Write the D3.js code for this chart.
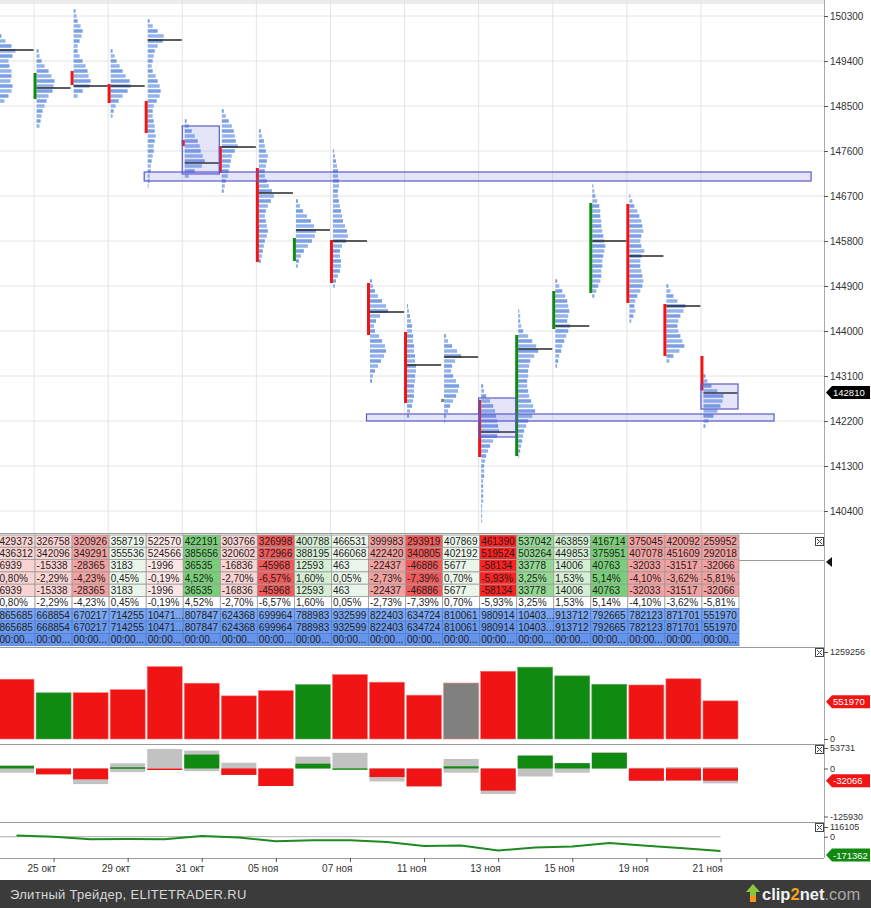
<!DOCTYPE html>
<html>
<head>
<meta charset="utf-8">
<script src="https://cdn.jsdelivr.net/npm/d3@7"></script>
<style>
  body { margin: 0; background: #fff; }
  svg { display: block; }
</style>
</head>
<body>
<script>
'use strict';

// ---- data ----
const days = ['24 окт', '25 окт', '28 окт', '29 окт', '30 окт', '31 окт', '01 ноя', '05 ноя', '06 ноя', '07 ноя',
  '08 ноя', '11 ноя', '12 ноя', '13 ноя', '14 ноя', '15 ноя', '18 ноя', '19 ноя', '20 ноя', '21 ноя'];

// daily open / close (candle body)
const openPx  = [149500, 148640, 149200, 148940, 148600, 147820, 147700, 147260, 145400, 145820,
  144960, 143980, 142640, 142620, 141500, 144040, 144760, 146540, 144540, 143500];
const closePx = [148700, 149160, 148920, 148560, 147960, 147700, 147160, 145380, 145860, 144960,
  143920, 142560, 142640, 141480, 143920, 144800, 146560, 144560, 143500, 142810];

// point of control per day
const pocPx = [149620, 148860, 148900, 148900, 149820, 147360, 147680, 146760, 146020, 145800,
  144380, 143320, 143480, 141980, 143640, 144100, 145800, 145500, 144500, 142760];

// volume profile: top price of each day and volume per 100-pt level going down
const profileTop = [149900, 149600, 150400, 149600, 150200, 148200, 148400, 148000, 146600, 147600,
  145000, 144500, 143900, 142900, 144400, 145000, 146900, 146700, 144900, 143100];
const profileVol = [
  [2, 6, 12, 16, 13, 9, 10, 12, 12, 11, 13, 12, 9, 5],
  [2, 3, 5, 8, 12, 15, 18, 17, 16, 12, 10, 8, 6, 5, 4, 3],
  [2, 3, 4, 7, 9, 8, 6, 4, 4, 6, 9, 12, 14, 15, 17, 16, 9, 4],
  [2, 4, 6, 9, 12, 15, 19, 20, 17, 12, 8, 5, 3, 2],
  [2, 5, 10, 16, 15, 10, 7, 6, 5, 4, 5, 8, 10, 12, 13, 12, 9, 6, 5, 5, 6, 7, 7, 8, 7, 6, 6, 5, 4, 3, 3, 2, 2, 1],
  [2, 4, 7, 10, 13, 15, 16, 18, 20, 17, 10, 4],
  [2, 4, 7, 10, 12, 13, 14, 16, 13, 10, 9, 8, 7, 6, 4, 3, 2],
  [2, 3, 5, 6, 7, 9, 8, 7, 6, 6, 8, 10, 13, 15, 12, 9, 7, 6, 7, 8, 9, 8, 6, 5, 4, 3, 2],
  [2, 4, 7, 11, 15, 18, 20, 19, 16, 12, 8, 5, 3, 2],
  [1, 2, 3, 4, 5, 5, 6, 6, 5, 5, 6, 7, 8, 9, 10, 12, 14, 15, 13, 9, 7, 7, 8, 8, 7, 5, 3, 2],
  [2, 3, 5, 8, 12, 16, 18, 10, 6, 4, 5, 9, 12, 15, 16, 14, 11, 8, 5, 3, 2],
  [1, 2, 3, 4, 5, 5, 6, 6, 7, 7, 8, 8, 9, 9, 8, 8, 7, 7, 7, 6, 5, 3, 2],
  [2, 4, 8, 13, 17, 11, 8, 7, 9, 12, 15, 14, 12, 9, 6, 4, 2, 1],
  [2, 3, 5, 9, 12, 14, 15, 16, 17, 18, 16, 12, 9, 7, 5, 4, 3, 3, 3, 2, 2, 2, 2, 2, 1, 1, 1, 1],
  [1, 2, 2, 3, 5, 10, 14, 18, 20, 16, 12, 11, 10, 10, 9, 9, 10, 11, 13, 15, 17, 14, 10, 8, 6, 5, 4, 3, 2, 1],
  [2, 4, 7, 10, 12, 13, 14, 13, 12, 15, 13, 11, 9, 7, 6, 4, 3, 2],
  [1, 2, 3, 5, 7, 8, 8, 9, 9, 10, 11, 12, 13, 12, 11, 10, 10, 9, 9, 8, 6, 4, 2],
  [1, 3, 5, 8, 10, 12, 13, 14, 12, 11, 12, 15, 12, 11, 11, 12, 13, 14, 13, 11, 8, 6, 5, 6, 4, 2],
  [2, 4, 7, 11, 19, 17, 14, 12, 11, 12, 14, 16, 18, 13, 7, 3],
  [2, 4, 8, 14, 20, 19, 17, 14, 10, 5, 2]
];

// highlighted boxes on single days
const boxDay = [5, 13, 19];
const boxHi  = [148100, 142660, 142940];
const boxLo  = [147140, 141880, 142440];

// horizontal level bands (from day index to day index)
const bandFrom = [4, 10];
const bandTo   = [22, 21];
const bandHi   = [147180, 142340];
const bandLo   = [147000, 142200];

const priceTicks = [150300, 149400, 148500, 147600, 146700, 145800, 144900, 144000, 143100, 142200, 141300, 140400];
const lastPrice = 142810;

// table rows
const buyVol  = [429373, 326758, 320926, 358719, 522570, 422191, 303766, 326998, 400788, 466531,
  399983, 293919, 407869, 461390, 537042, 463859, 416714, 375045, 420092, 259952];
const sellVol = [436312, 342096, 349291, 355536, 524566, 385656, 320602, 372966, 388195, 466068,
  422420, 340805, 402192, 519524, 503264, 449853, 375951, 407078, 451609, 292018];
const delta   = [6939, -15338, -28365, 3183, -1996, 36535, -16836, -45968, 12593, 463,
  -22437, -46886, 5677, -58134, 33778, 14006, 40763, -32033, -31517, -32066];
const deltaPct = ['0,80%', '-2,29%', '-4,23%', '0,45%', '-0,19%', '4,52%', '-2,70%', '-6,57%', '1,60%', '0,05%',
  '-2,73%', '-7,39%', '0,70%', '-5,93%', '3,25%', '1,53%', '5,14%', '-4,10%', '-3,62%', '-5,81%'];
const volume  = [865685, 668854, 670217, 714255, 1047100, 807847, 624368, 699964, 788983, 932599,
  822403, 634724, 810061, 980914, 1040300, 913712, 792665, 782123, 871701, 551970];
const timeText = '00:00:00';
const cellTone = ['r2', 'r2', 'r3', 'g1', 'r1', 'g4', 'r2', 'r4', 'g2', 'g1',
  'r3', 'r4', 'g1', 'r5', 'g3', 'g2', 'g4', 'r3', 'r3', 'r3'];

// intraday delta range (grey bars) and cumulative delta
const deltaHi = [8000, 0, 0, 13600, 51000, 47000, 15000, 0, 31000, 41000,
  0, 0, 25000, 0, 33778, 14006, 43000, 2000, 4000, 4000];
const deltaLo = [-11000, -15338, -41000, -9500, 0, -7000, -16836, -45968, 0, 0,
  -34000, -46886, -11000, -67000, -21000, -11000, 0, -32033, -31517, -39000];
const cumDelta = [13216, -2122, -30487, -27304, -29300, 7235, -9601, -55569, -42976, -42513,
  -64950, -111836, -106159, -164293, -130515, -116509, -75746, -107779, -139296, -171362];

const volTicks = [0, 1259256];
const deltaTicks = [-125930, 0, 53731];
const cumTicks = [0, 116105];

(function() {

  let svg = '';
  const axisX = 824;
  const font = '"Liberation Sans", Arial, sans-serif';
  const green = '#118a11';
  const red = '#f01414';

  // plain integer text with a normal hyphen for negatives
  const num = d => String(Math.round(d));

  // day index -> x
  const xs = d3.scaleLinear().domain([0, 20]).range([-2, 739]);
  const yPrice = d3.scaleLinear().domain([150300, 140400]).range([16, 511]);
  const wVol = d3.scaleLinear().domain([0, 20]).range([0, 20]);
  const yVol = d3.scaleLinear().domain([0, 1259256]).range([739, 652]);
  const yDelta = d3.scaleLinear().domain([-125930, 53731]).range([816.5, 748]);
  const yCum = d3.scaleLinear().domain([-171362, 116105]).range([851, 827]);

  const tone = d3.scaleOrdinal()
    .domain(['r1', 'r2', 'r3', 'r4', 'r5', 'g1', 'g2', 'g3', 'g4'])
    .range(['#fde6e6', '#f9d2d2', '#f3a0a0', '#f05a5a', '#ff2222', '#eaf6ea', '#d5efd5', '#93d893', '#78cf78']);

  function dirColor(i) {
    if (closePx[i] > openPx[i]) return green;
    if (closePx[i] < openPx[i]) return red;
    return '#808080';
  }

  window.onload = function() {
    svg = d3.select('body').append('svg')
      .attr('width', 871)
      .attr('height', 908)
      .style('font-family', font);

    svg.append('rect').attr('width', 871).attr('height', 908).attr('fill', '#fff');

    let defs = svg.append('defs');
    defs.append('clipPath').attr('id', 'clipPrice')
      .append('rect').attr('x', 0).attr('y', 0).attr('width', axisX).attr('height', 533);
    defs.append('clipPath').attr('id', 'clipLeft')
      .append('rect').attr('x', 0).attr('y', 0).attr('width', axisX).attr('height', 908);

    drawPricePanel();
    drawTable();
    drawVolume();
    drawDelta();
    drawCum();
    drawAxes();
    drawFooter();
  };

  // price panel: grid, profiles, candles, POC, boxes
  function drawPricePanel() {
    let g = svg.append('g').attr('clip-path', 'url(#clipPrice)');

    g.append('rect').attr('x', 0).attr('y', 0).attr('width', axisX).attr('height', 4).attr('fill', '#ececec');

    g.selectAll('.hgrid').data(priceTicks).enter().append('line')
      .attr('x1', 0).attr('x2', axisX)
      .attr('y1', d => yPrice(d)).attr('y2', d => yPrice(d))
      .attr('stroke', '#e4e4e4');

    let odd = d3.range(1, 20, 2);
    g.selectAll('.vgrid').data(odd).enter().append('line')
      .attr('x1', d => xs(d) - 1).attr('x2', d => xs(d) - 1)
      .attr('y1', 0).attr('y2', 533)
      .attr('stroke', '#e4e4e4');

    // volume profiles
    profileVol.forEach(function(levels, i) {
      g.append('g').selectAll('rect').data(levels).enter().append('rect')
        .attr('x', xs(i) + 1.5)
        .attr('y', (d, j) => yPrice(profileTop[i] - j * 100) - 1.75)
        .attr('width', d => wVol(d))
        .attr('height', 3.5)
        .attr('fill', (d, j) => j % 2 ? '#93b3ec' : '#7a9fe4');
    });

    // candle bodies
    g.selectAll('.candle').data(d3.range(20)).enter().append('rect')
      .attr('x', i => xs(i) - 1.5)
      .attr('y', i => yPrice(Math.max(openPx[i], closePx[i])))
      .attr('width', 3)
      .attr('height', i => Math.max(3, Math.abs(yPrice(openPx[i]) - yPrice(closePx[i]))))
      .attr('fill', i => dirColor(i));

    // POC lines
    g.selectAll('.poc').data(pocPx).enter().append('line')
      .attr('x1', (d, i) => xs(i) + 1.5)
      .attr('x2', (d, i) => xs(i + 1) - 1.5)
      .attr('y1', d => yPrice(d)).attr('y2', d => yPrice(d))
      .attr('stroke', '#262626')
      .attr('stroke-width', 1.5);

    // day boxes
    g.selectAll('.box').data(boxDay).enter().append('rect')
      .attr('x', d => xs(d) - 1)
      .attr('y', (d, k) => yPrice(boxHi[k]))
      .attr('width', d => xs(d + 1) - xs(d))
      .attr('height', (d, k) => yPrice(boxLo[k]) - yPrice(boxHi[k]))
      .attr('fill', 'rgba(110,110,225,0.18)')
      .attr('stroke', '#5a5ac8')
      .attr('stroke-width', 1.2);

    // level bands
    g.selectAll('.band').data(bandFrom).enter().append('rect')
      .attr('x', d => xs(d) - 2)
      .attr('y', (d, k) => yPrice(bandHi[k]))
      .attr('width', (d, k) => xs(bandTo[k]) - xs(d))
      .attr('height', (d, k) => yPrice(bandLo[k]) - yPrice(bandHi[k]))
      .attr('fill', 'rgba(110,110,225,0.18)')
      .attr('stroke', '#5a5ac8')
      .attr('stroke-width', 1.2);
  }

  // statistics table under the price panel
  function drawTable() {
    let top = 535;
    let rowH = 12.3;
    let cut = function(s) { return s.length > 6 ? s.slice(0, 5) + '...' : s; };
    let rows = [
      buyVol.map(num), sellVol.map(num), delta.map(num), deltaPct,
      delta.map(num), deltaPct, volume.map(v => cut(num(v))), volume.map(v => cut(num(v))),
      days.map(() => cut(timeText))
    ];
    let blue = ['#7ba6f0', '#6c9aec', '#6594ea'];

    let g = svg.append('g').attr('clip-path', 'url(#clipLeft)');
    rows.forEach(function(vals, r) {
      let rg = g.append('g');
      rg.selectAll('rect').data(vals).enter().append('rect')
        .attr('x', (d, i) => xs(i))
        .attr('y', top + r * rowH)
        .attr('width', (d, i) => xs(i + 1) - xs(i))
        .attr('height', rowH)
        .attr('fill', (d, i) => r < 5 ? tone(cellTone[i]) : (r === 5 ? '#fff' : blue[r - 6]))
        .attr('stroke', r >= 6 ? '#4f7fd6' : '#9c9c9c')
        .attr('stroke-width', 0.8);
      rg.selectAll('text').data(vals).enter().append('text')
        .attr('x', (d, i) => xs(i) + 1.5)
        .attr('y', top + r * rowH + rowH - 2.6)
        .style('font-size', '10px')
        .attr('fill', '#1e1e1e')
        .text(d => d);
    });

    svg.append('line').attr('x1', 0).attr('x2', axisX).attr('y1', 533.5).attr('y2', 533.5).attr('stroke', '#9a9a9a');
    svg.append('line').attr('x1', 0).attr('x2', axisX).attr('y1', 647.5).attr('y2', 647.5).attr('stroke', '#9a9a9a');
    svg.append('line').attr('x1', xs(20)).attr('x2', axisX).attr('y1', 560.5).attr('y2', 560.5).attr('stroke', '#9a9a9a');
    svg.append('path').attr('d', 'M826,562 L832,557 L832,567 Z').attr('fill', '#111');
    closeBox(815, 537);
  }

  function drawVolume() {
    svg.append('g').selectAll('rect').data(volume).enter().append('rect')
      .attr('x', (d, i) => xs(i) + 1)
      .attr('y', d => yVol(d))
      .attr('width', (d, i) => xs(i + 1) - xs(i) - 2)
      .attr('height', d => yVol(0) - yVol(d))
      .attr('fill', (d, i) => dirColor(i))
      .attr('stroke', (d, i) => dirColor(i) === green ? '#6fa96f' : '#f47a7a')
      .attr('stroke-width', 0.6);
    svg.append('line').attr('x1', 0).attr('x2', axisX).attr('y1', 744.5).attr('y2', 744.5).attr('stroke', '#9a9a9a');
    closeBox(815, 648);
  }

  function drawDelta() {
    let g = svg.append('g');
    g.selectAll('.rng').data(deltaHi).enter().append('rect')
      .attr('x', (d, i) => xs(i) + 1)
      .attr('y', d => yDelta(d))
      .attr('width', (d, i) => xs(i + 1) - xs(i) - 2)
      .attr('height', (d, i) => yDelta(deltaLo[i]) - yDelta(d))
      .attr('fill', '#c2c2c2');
    g.selectAll('.dlt').data(delta).enter().append('rect')
      .attr('x', (d, i) => xs(i) + 1)
      .attr('y', d => yDelta(Math.max(0, d)))
      .attr('width', (d, i) => xs(i + 1) - xs(i) - 2)
      .attr('height', d => Math.max(1.5, Math.abs(yDelta(d) - yDelta(0))))
      .attr('fill', d => d >= 0 ? green : red);
    svg.append('line').attr('x1', 0).attr('x2', axisX).attr('y1', 822.5).attr('y2', 822.5).attr('stroke', '#9a9a9a');
    closeBox(815, 745);
  }

  function drawCum() {
    svg.append('line').attr('x1', 0).attr('x2', xs(19.5))
      .attr('y1', yCum(0)).attr('y2', yCum(0))
      .attr('stroke', '#bdbdbd').attr('stroke-width', 1.2);
    const line = d3.line()
      .x((d, i) => xs(i + 0.5))
      .y(d => yCum(d));
    svg.append('path')
      .datum(cumDelta)
      .attr('d', line)
      .attr('fill', 'none')
      .attr('stroke', '#1f8a1f')
      .attr('stroke-width', 2)
      .attr('clip-path', 'url(#clipLeft)');
    closeBox(815, 823);
  }

  function closeBox(x, y) {
    let b = svg.append('g').attr('transform', 'translate(' + x + ',' + y + ')');
    b.append('rect').attr('x', 0.5).attr('y', 0.5).attr('width', 8).attr('height', 8)
      .attr('fill', '#fff').attr('stroke', '#444');
    b.append('path').attr('d', 'M2,2 L7,7 M7,2 L2,7').attr('stroke', '#444');
  }

  function tag(y, text, color) {
    let t = svg.append('g').attr('transform', 'translate(' + (axisX + 2) + ',' + y + ')');
    t.append('path').attr('d', 'M0,0 L6,-6.5 L44,-6.5 L44,6.5 L6,6.5 Z').attr('fill', color);
    t.append('text').attr('x', 7).attr('y', 3.6)
      .style('font-size', '9.5px').attr('fill', '#fff').text(text);
  }

  function styleAxis(size) {
    return function(g) {
      g.select('.domain').remove();
      g.selectAll('line').attr('stroke', '#555');
      g.selectAll('text').style('font-size', size).style('font-family', font).attr('fill', '#333');
    };
  }

  function drawAxes() {
    svg.append('line').attr('x1', axisX + 0.5).attr('x2', axisX + 0.5)
      .attr('y1', 0).attr('y2', 858).attr('stroke', '#a8a8a8');

    svg.append('g').attr('transform', 'translate(' + axisX + ',0)')
      .call(d3.axisRight(yPrice).tickValues(priceTicks).tickSize(4).tickPadding(2).tickFormat(num))
      .call(styleAxis('10px'));
    svg.append('g').attr('transform', 'translate(' + axisX + ',0)')
      .call(d3.axisRight(yVol).tickValues(volTicks).tickSize(4).tickPadding(2).tickFormat(num))
      .call(styleAxis('9px'));
    svg.append('g').attr('transform', 'translate(' + axisX + ',0)')
      .call(d3.axisRight(yDelta).tickValues(deltaTicks).tickSize(4).tickPadding(2).tickFormat(num))
      .call(styleAxis('9px'));
    svg.append('g').attr('transform', 'translate(' + axisX + ',0)')
      .call(d3.axisRight(yCum).tickValues(cumTicks).tickSize(4).tickPadding(2).tickFormat(num))
      .call(styleAxis('9px'));

    tag(yPrice(lastPrice) + 2, num(lastPrice), '#000');
    tag(yVol(volume[19]) + 1, num(volume[19]), '#f01414');
    tag(yDelta(delta[19]), num(delta[19]), '#f01414');
    tag(yCum(cumDelta[19]) + 4, num(cumDelta[19]), '#118a11');

    // date axis
    svg.append('line').attr('x1', 0).attr('x2', axisX).attr('y1', 858.5).attr('y2', 858.5).attr('stroke', '#9a9a9a');
    let odd = d3.range(1, 20, 2);
    let xg = svg.append('g').attr('transform', 'translate(0,858)')
      .call(d3.axisBottom(xs).tickValues(odd.map(i => i + 0.5)).tickSize(4).tickPadding(3)
        .tickFormat(d => days[Math.floor(d)]))
      .call(styleAxis('10px'));
    xg.selectAll('text').attr('text-anchor', 'end').attr('x', 2);
  }

  function drawFooter() {
    svg.append('rect').attr('x', 0).attr('y', 880).attr('width', 871).attr('height', 28).attr('fill', '#3b3b3b');
    svg.append('text').attr('x', 10).attr('y', 898.5)
      .style('font-size', '13px').style('letter-spacing', '0.3px')
      .attr('fill', '#d8d8d8')
      .text('Элитный Трейдер, ELITETRADER.RU');

    // clip2net logo
    let lg = svg.append('g').attr('transform', 'translate(746,884)');
    lg.append('path').attr('d', 'M7,0 L14,8 L10,8 L10,18 L4,18 L4,8 L0,8 Z').attr('fill', '#8cc63f');
    lg.append('rect').attr('x', 4).attr('y', 12).attr('width', 6).attr('height', 6).attr('fill', '#f7941d');
    let t = lg.append('text').attr('x', 16).attr('y', 16)
      .style('font-size', '16.5px').style('font-weight', 'bold');
    t.append('tspan').attr('fill', '#f2f2f2').text('clip');
    t.append('tspan').attr('fill', '#f7a21d').text('2');
    t.append('tspan').attr('fill', '#f2f2f2').text('net');
    t.append('tspan').attr('fill', '#a8a8a8').style('font-weight', 'normal').text('.com');
  }

})();
</script>
</body>
</html>
